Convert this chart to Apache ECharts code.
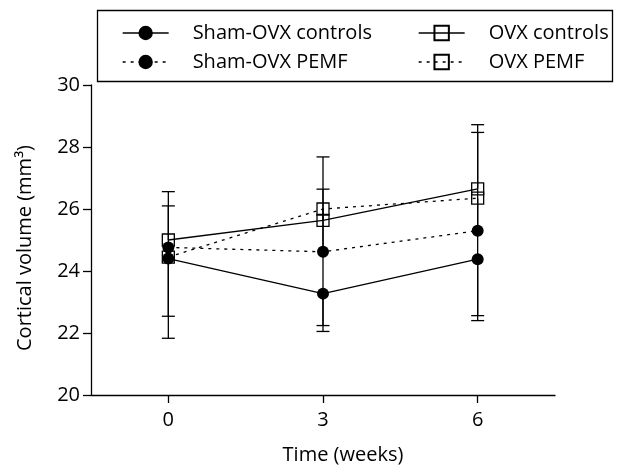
<!DOCTYPE html>
<html><head><meta charset="utf-8">
<script src="https://cdn.jsdelivr.net/npm/echarts@6/dist/echarts.min.js"></script>
<style>html,body{margin:0;padding:0;background:#fff}#c{width:623px;height:471px}</style>
</head><body><div id="c"></div>
<script>
// Data
const weeks = [0, 3, 6];
const xTickLabels = ['0', '3', '6'];
const seriesNames = ['Sham-OVX controls', 'Sham-OVX PEMF', 'OVX controls', 'OVX PEMF'];
const shamControls = [24.40, 23.27, 24.38];
const shamControlsErrEnd = [22.54, 22.24, 22.56];
const shamPemf = [24.76, 24.62, 25.30];
const shamPemfErrEnd = [26.10, 26.64, 28.47];
const ovxControls = [25.00, 25.63, 26.65];
const ovxControlsErrEnd = [26.56, 27.68, 28.72];
const ovxPemf = [24.45, 26.00, 26.35];
const ovxPemfErrEnd = [21.83, 22.05, 22.40];

const FONT = 'Open Sans';
const FS = 20;
const LW = 1.3;

function pts(vals) { return weeks.map((w, i) => [w, vals[i]]); }

function errSeries(means, ends) {
  return {
    type: 'custom', z: 1, silent: true,
    data: weeks.map((w, i) => [w, means[i], ends[i]]),
    encode: { x: 0, y: [1, 2] },
    renderItem(params, api) {
      const p0 = api.coord([api.value(0), api.value(1)]);
      const p1 = api.coord([api.value(0), api.value(2)]);
      const hw = 6.5;
      return {
        type: 'group', children: [
          { type: 'line', shape: { x1: p0[0], y1: p0[1], x2: p1[0], y2: p1[1] }, style: { stroke: '#000', lineWidth: LW } },
          { type: 'line', shape: { x1: p1[0] - hw, y1: p1[1], x2: p1[0] + hw, y2: p1[1] }, style: { stroke: '#000', lineWidth: LW } }
        ]
      };
    }
  };
}

function lineSeries(name, vals, filled, dashed) {
  return {
    name, type: 'line', z: 3,
    data: pts(vals),
    symbol: filled ? 'circle' : 'rect',
    symbolSize: 12,
    showAllSymbol: true,
    lineStyle: { color: '#000', width: LW, type: dashed ? [3, 5] : 'solid' },
    itemStyle: filled ? { color: '#000', borderColor: '#000', borderWidth: 0 }
                      : { color: 'rgba(255,255,255,0)', borderColor: '#000', borderWidth: LW },
    emphasis: { disabled: true }
  };
}

const legendCommon = {
  orient: 'vertical', itemWidth: 46, itemHeight: 18, itemGap: 9, padding: 0,
  selectedMode: false,
  textStyle: { fontFamily: FONT, fontSize: FS, color: '#000', lineHeight: 20, padding: [0, 0, 0, 19] },
  lineStyle: { width: LW }
};

const chart = echarts.init(document.getElementById('c'), null, { renderer: 'canvas' });
chart.setOption({
  animation: false,
  backgroundColor: '#fff',
  grid: { left: 91, right: 68, top: 85, bottom: 76, containLabel: false },
  legend: [
    Object.assign({}, legendCommon, { left: 122, top: 23, data: [seriesNames[0], seriesNames[1]] }),
    Object.assign({}, legendCommon, { left: 418, top: 23, data: [seriesNames[2], seriesNames[3]] })
  ],
  graphic: [{
    type: 'rect', shape: { x: 97.5, y: 10.5, width: 515, height: 71 },
    style: { fill: 'none', stroke: '#000', lineWidth: LW }, z: 0
  }],
  xAxis: {
    type: 'value', min: -1.5, max: 7.5,
    name: 'Time (weeks)', nameLocation: 'middle', nameGap: 50,
    nameTextStyle: { fontFamily: FONT, fontSize: FS, color: '#000', padding: [0, 0, 0, 40] },
    axisLine: { onZero: false, lineStyle: { color: '#000', width: LW } },
    axisTick: { show: true, length: 8, inside: false, customValues: weeks, lineStyle: { color: '#000', width: LW } },
    axisLabel: { customValues: weeks, formatter: v => xTickLabels[weeks.indexOf(v)], fontFamily: FONT, fontSize: FS, color: '#000', margin: 15 },
    splitLine: { show: false }
  },
  yAxis: {
    type: 'value', min: 20, max: 30, interval: 2,
    name: 'Cortical volume (mm³)', nameLocation: 'middle', nameGap: 56, nameRotate: 90,
    nameTextStyle: { fontFamily: FONT, fontSize: FS, color: '#000', padding: [0, 16, 0, 0] },
    axisLine: { show: true, onZero: false, lineStyle: { color: '#000', width: LW } },
    axisTick: { show: true, length: 8, inside: false, lineStyle: { color: '#000', width: LW } },
    axisLabel: { fontFamily: FONT, fontSize: FS, color: '#000', margin: 11 },
    splitLine: { show: false }
  },
  series: [
    errSeries(shamControls, shamControlsErrEnd),
    errSeries(shamPemf, shamPemfErrEnd),
    errSeries(ovxControls, ovxControlsErrEnd),
    errSeries(ovxPemf, ovxPemfErrEnd),
    lineSeries(seriesNames[0], shamControls, true, false),
    lineSeries(seriesNames[1], shamPemf, true, true),
    lineSeries(seriesNames[2], ovxControls, false, false),
    lineSeries(seriesNames[3], ovxPemf, false, true)
  ]
});
</script></body></html>
